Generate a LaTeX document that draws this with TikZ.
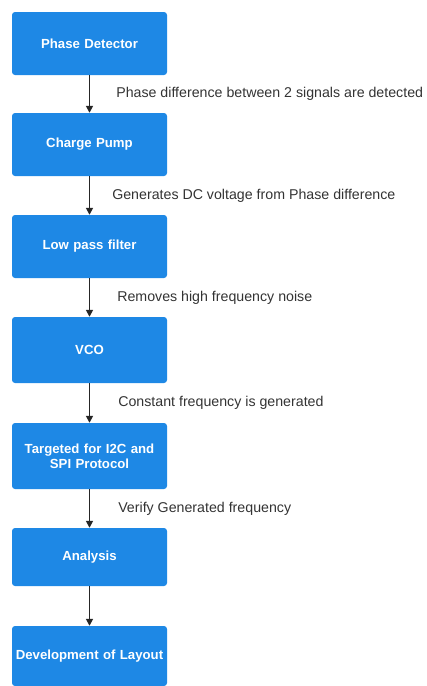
\documentclass[tikz,border=0pt]{standalone}
\usepackage{fontspec}
\setmainfont{Liberation Sans}
\usetikzlibrary{arrows.meta}
\definecolor{stageblue}{RGB}{30,136,229}

\begin{document}
\begin{tikzpicture}[x=1pt,y=-1pt]
 \tikzset{stage/.style={
    fill=stageblue,
    rounded corners=3pt,
    minimum width=155pt,
    minimum height=#1,
    text width=153pt,
    align=center,
    inner sep=0pt,
    text=white,
    font=\bfseries\fontsize{13.2}{15}\selectfont
  },
  stage/.default=63pt,
  flow/.style={-{Triangle[length=7pt,width=7pt]}, line width=1.6pt, draw=black!85},
  note/.style={anchor=west, inner sep=0pt, text=black!80,
    font=\fontsize{14.2}{16}\selectfont}
}
\useasboundingbox (0,0) rectangle (427,686);
\node[stage] (detector) at (89.5,43.5) {Phase Detector};
\node[stage] (pump) at (89.5,144.5) {Charge Pump};
\node[stage] (filter) at (89.5,246.5) {Low pass filter};
\node[stage=66pt] (vco) at (89.5,350) {VCO};
\node[stage=66pt] (target) at (89.5,456) {Targeted for I2C and\\SPI Protocol};
\node[stage=58pt] (analysis) at (89.5,557) {Analysis};
\node[stage=60pt] (layout) at (89.5,656) {Development of Layout};

\draw[flow] (detector) -- node[note, right=26pt] {Phase difference between 2 signals are detected} (pump);
\draw[flow] (pump) -- node[note, right=22pt] {Generates DC voltage from Phase difference} (filter);
\draw[flow] (filter) -- node[note, right=27pt] {Removes high frequency noise} (vco);
\draw[flow] (vco) -- node[note, right=28pt] {Constant frequency is generated} (target);
\draw[flow] (target) -- node[note, right=28pt] {Verify Generated frequency} (analysis);
\draw[flow] (analysis) -- (layout);
\end{tikzpicture}
\end{document}
